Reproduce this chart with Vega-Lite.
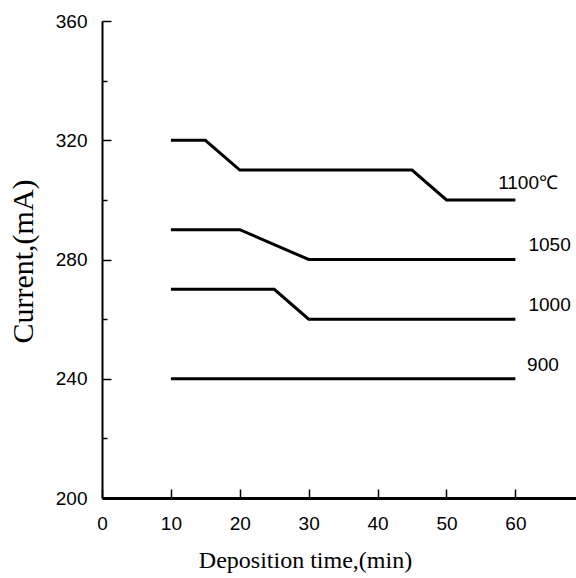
{
  "$schema": "https://vega.github.io/schema/vega-lite/v6.json",
  "autosize": "none",
  "width": 474,
  "height": 477,
  "padding": {"left": 102, "top": 21, "right": 0, "bottom": 80},
  "background": "white",
  "config": {"view": {"stroke": null}},
  "datasets": {
    "lines": [
      {"series": "1100", "time": 10, "current": 320},
      {"series": "1100", "time": 15, "current": 320},
      {"series": "1100", "time": 20, "current": 310},
      {"series": "1100", "time": 45, "current": 310},
      {"series": "1100", "time": 50, "current": 300},
      {"series": "1100", "time": 60, "current": 300},
      {"series": "1050", "time": 10, "current": 290},
      {"series": "1050", "time": 20, "current": 290},
      {"series": "1050", "time": 30, "current": 280},
      {"series": "1050", "time": 60, "current": 280},
      {"series": "1000", "time": 10, "current": 270},
      {"series": "1000", "time": 25, "current": 270},
      {"series": "1000", "time": 30, "current": 260},
      {"series": "1000", "time": 60, "current": 260},
      {"series": "900", "time": 10, "current": 240},
      {"series": "900", "time": 60, "current": 240}
    ],
    "labels": [
      {"text": "1100℃", "time": 57.5, "current": 305.5},
      {"text": "1050", "time": 61.9, "current": 285.0},
      {"text": "1000", "time": 61.9, "current": 264.6},
      {"text": "900", "time": 61.7, "current": 244.6}
    ]
  },
  "layer": [
    {
      "data": {"name": "lines"},
      "mark": {"type": "line", "color": "black", "strokeWidth": 3},
      "encoding": {
        "x": {
          "field": "time", "type": "quantitative",
          "scale": {"domain": [0, 68.8], "nice": false, "zero": false},
          "axis": {
            "title": "Deposition time,(min)",
            "values": [0, 5, 10, 15, 20, 25, 30, 35, 40, 45, 50, 55, 60, 65],
            "labelExpr": "datum.value % 10 == 0 ? datum.label : ''",
            "grid": false,
            "domainColor": "black", "domainWidth": 3,
            "ticks": true, "tickColor": "black", "tickWidth": 1.5, "tickSize": 9,
            "labelFont": "Liberation Sans", "labelFontSize": 19, "labelColor": "black",
            "labelPadding": 7, "labelBaseline": "top", "labelFlush": false, "labelOverlap": false,
            "titleFont": "Liberation Serif", "titleFontSize": 24, "titleFontWeight": "normal", "titleColor": "black",
            "titleX": 203, "titleY": 69, "titleBaseline": "alphabetic", "titleAlign": "center",
            "encoding": {"ticks": {"y2": {"condition": {"test": "datum.value % 10 === 0", "value": -9}, "value": -5}}}
          }
        },
        "y": {
          "field": "current", "type": "quantitative",
          "scale": {"domain": [200, 360], "nice": false, "zero": false},
          "axis": {
            "title": "Current,(mA)",
            "values": [200, 210, 220, 230, 240, 250, 260, 270, 280, 290, 300, 310, 320, 330, 340, 350, 360],
            "labelExpr": "datum.value % 40 == 0 ? datum.label : ''",
            "grid": false,
            "domainColor": "black", "domainWidth": 2,
            "ticks": true, "tickColor": "black", "tickWidth": 1.5, "tickSize": 9,
            "labelFont": "Liberation Sans", "labelFontSize": 19, "labelColor": "black",
            "labelPadding": 6, "labelFlush": false, "labelOverlap": false,
            "titleFont": "Liberation Serif", "titleFontSize": 30, "titleFontWeight": "normal", "titleColor": "black",
            "titleX": -70, "titleY": 240, "titleAngle": -90, "titleBaseline": "alphabetic", "titleAlign": "center",
            "encoding": {"ticks": {"x2": {"condition": {"test": "datum.value % 40 === 0", "value": 9}, "value": 5}}}
          }
        },
        "detail": {"field": "series", "type": "nominal"}
      }
    },
    {
      "mark": {"type": "rule", "color": "black", "strokeWidth": 2.5},
      "encoding": {"y": {"datum": 360}}
    },
    {
      "data": {"name": "labels"},
      "mark": {"type": "text", "align": "left", "baseline": "middle", "font": "Liberation Sans", "fontSize": 19, "color": "black"},
      "encoding": {
        "x": {"field": "time", "type": "quantitative"},
        "y": {"field": "current", "type": "quantitative"},
        "text": {"field": "text", "type": "nominal"}
      }
    }
  ]
}
